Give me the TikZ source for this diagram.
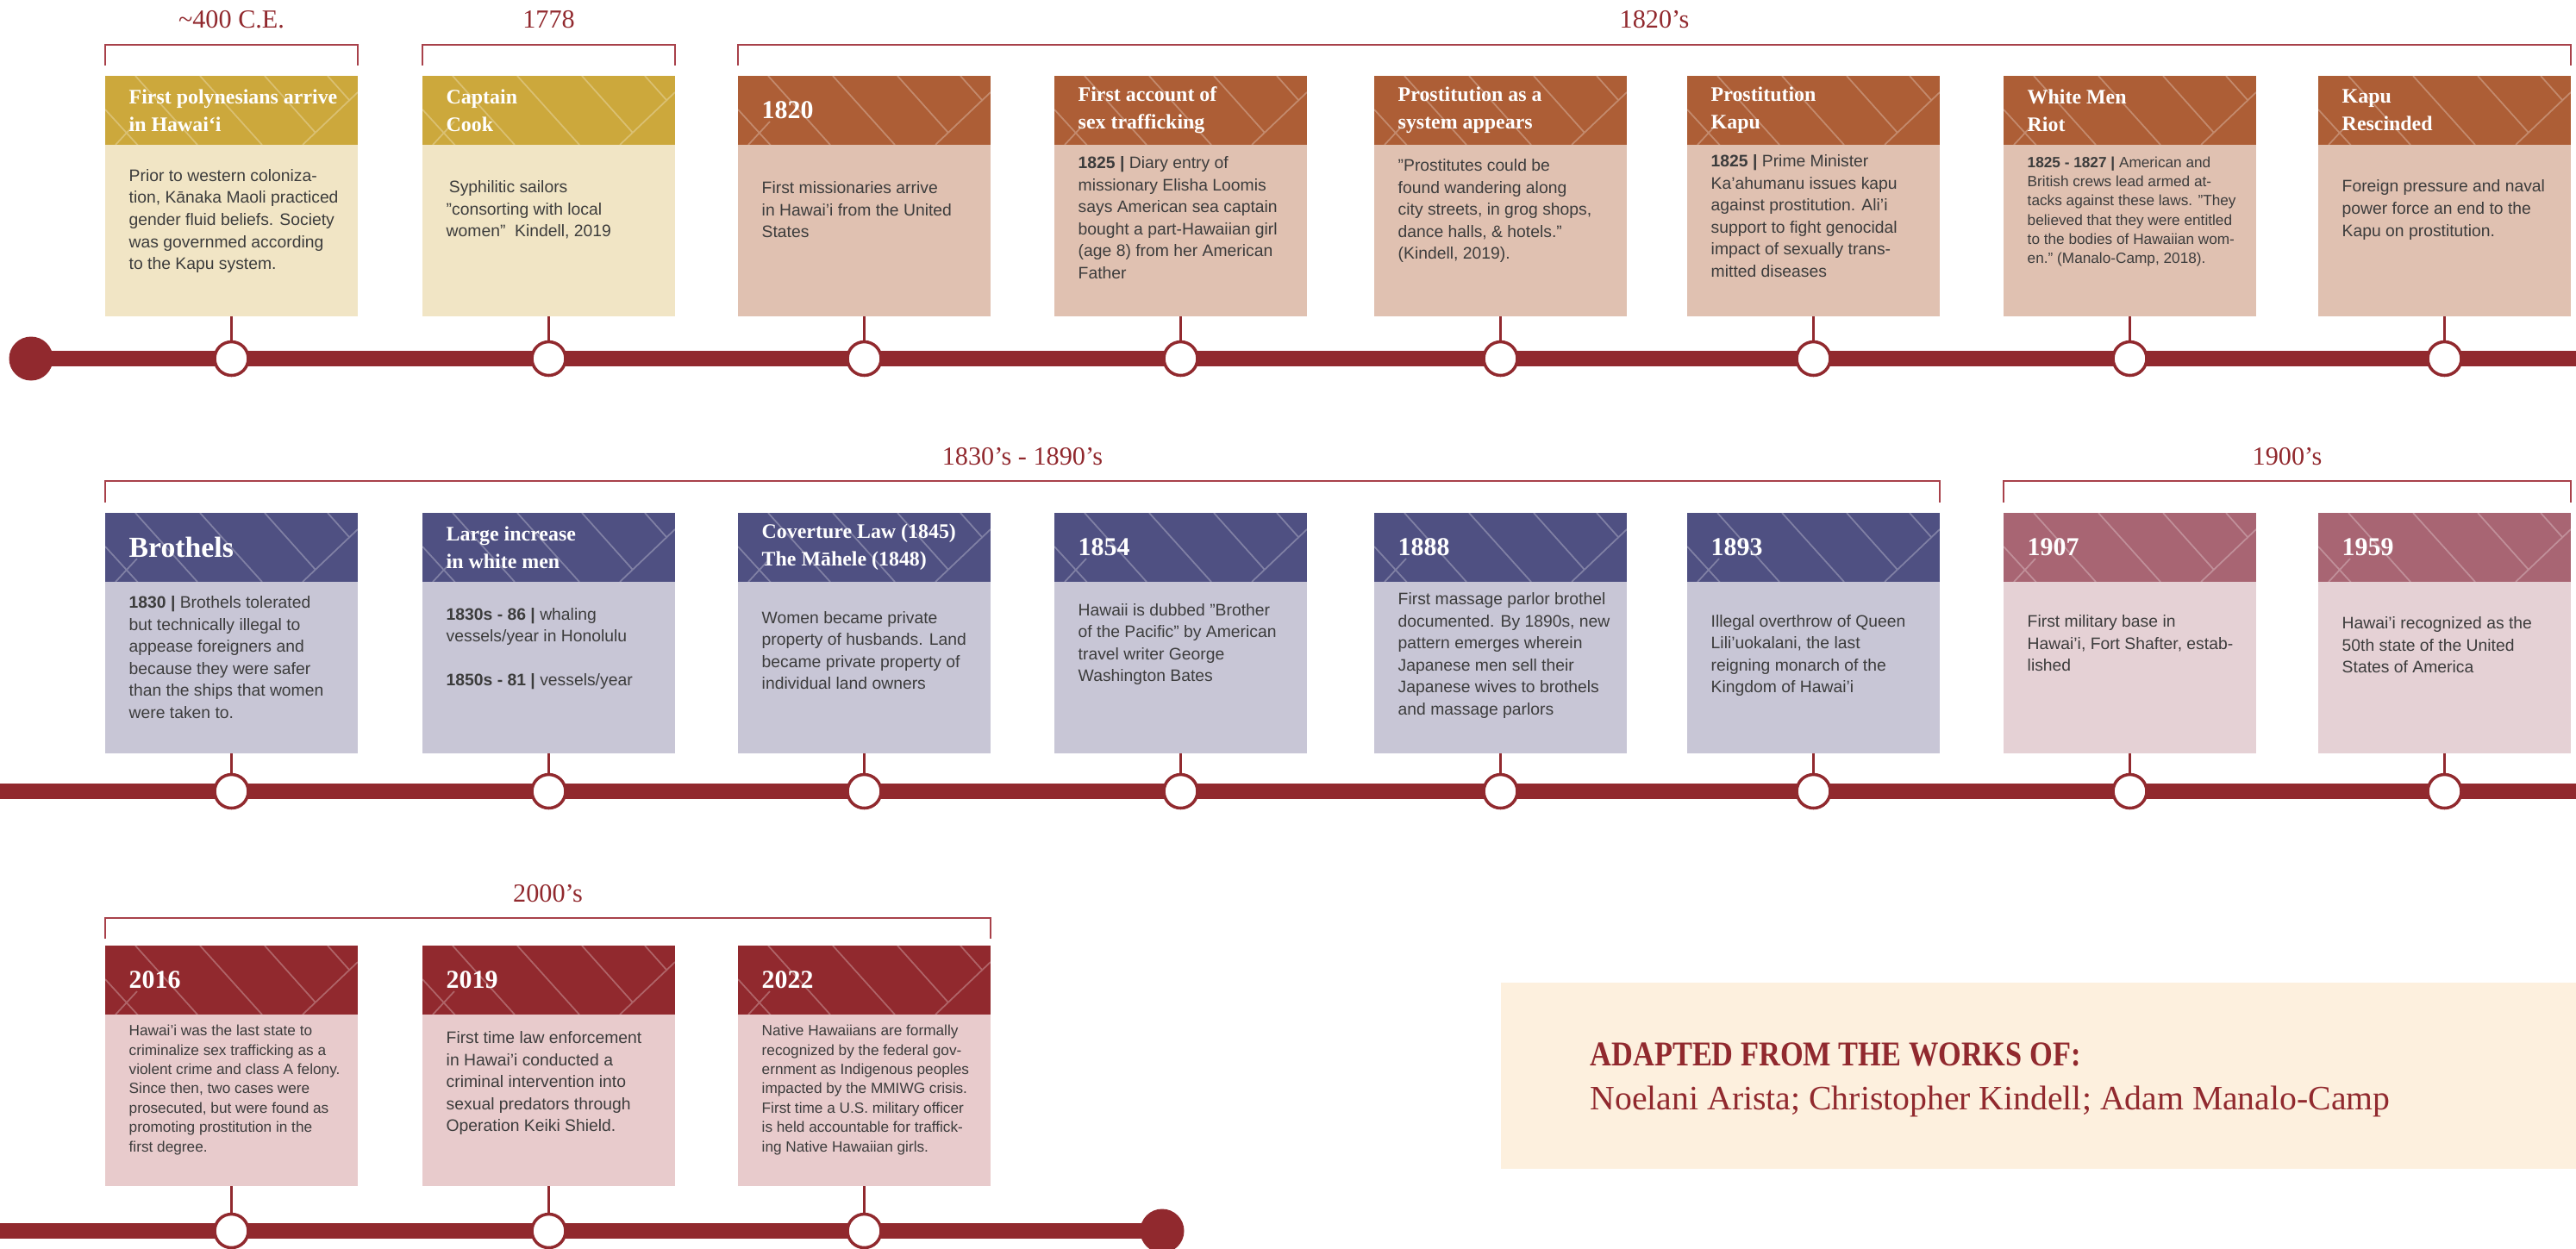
\documentclass[tikz,border=0pt]{standalone}
\usepackage{fontspec}
\setmainfont{Liberation Serif}
\setsansfont{Liberation Sans}
\newfontfamily\narrowserif[FakeStretch=0.85]{Liberation Serif}
\usetikzlibrary{positioning, calc}
\definecolor{tlred}{RGB}{145,41,46}
\definecolor{brkred}{RGB}{168,65,74}
\definecolor{textgray}{RGB}{60,60,60}
\definecolor{goldhd}{RGB}{204,168,60}
\definecolor{goldbd}{RGB}{241,229,197}
\definecolor{rusthd}{RGB}{173,94,54}
\definecolor{rustbd}{RGB}{224,193,177}
\definecolor{purphd}{RGB}{79,80,130}
\definecolor{purpbd}{RGB}{200,198,214}
\definecolor{mauvhd}{RGB}{168,101,115}
\definecolor{mauvbd}{RGB}{229,209,213}
\definecolor{redhd}{RGB}{145,41,46}
\definecolor{redbd}{RGB}{232,203,204}
\definecolor{creambox}{RGB}{253,240,222}

% herringbone lines inside a header
\newcommand{\hdrpattern}[1]{%
  \begin{scope}
    \clip (#1.south west) rectangle (#1.north east);
    \draw[hatch] ([yshift=-3.9mm]#1.north west) -- ++(0.42,-0.46)
      ([xshift=3.5mm]#1.north west) -- ++(0.72,-0.80)
      ([xshift=11mm]#1.north west) -- ++(0.72,-0.80)
      ([xshift=18.5mm]#1.north west) -- ++(0.59,-0.66)
      ([xshift=25.8mm]#1.north west) -- ++(0.25,-0.28)
      ([xshift=22.9mm]#1.south west) -- ++(0.64,0.61)
      ([xshift=1.2mm]#1.south west) -- ++(0.25,0.27);
  \end{scope}}

\begin{document}
\begin{tikzpicture}[
    hdr/.style={rectangle, inner sep=0pt, outer sep=0pt, minimum width=2.93cm, minimum height=0.80cm, anchor=north west},
    bdy/.style={rectangle, inner sep=0pt, outer sep=0pt, minimum width=2.93cm, minimum height=1.99cm},
    ttl/.style={inner sep=0pt, align=left, text=white, font=\fontsize{6.8}{9}\selectfont\bfseries},
    yr/.style={ttl, font=\fontsize{8.5}{10}\selectfont\bfseries},
    txt/.style={inner sep=0pt, align=left, text=textgray, font=\fontsize{5.5}{7.26}\selectfont\sffamily},
    smalltxt/.style={txt, font=\fontsize{4.9}{6.36}\selectfont\sffamily},
    hatch/.style={draw=white, opacity=0.28, line width=0.5pt},
    tline/.style={draw=tlred, line width=5pt},
    ring/.style={circle, draw=tlred, fill=white, line width=1pt, minimum size=0.39cm, inner sep=0pt},
    bigdot/.style={circle, fill=tlred, minimum size=0.51cm, inner sep=0pt},
    stem/.style={draw=tlred, line width=0.9pt},
    brk/.style={draw=brkred, line width=0.6pt},
    era/.style={text=tlred, font=\fontsize{8.6}{10}\selectfont, inner sep=0pt}
  ]
  \useasboundingbox (0,0) rectangle (29.88,-14.48);

  % timelines
  \node[bigdot] (s1) at (0.36,-4.16) {};
  \coordinate (l1) at (0,-4.16);
  \coordinate (r1) at (29.88,-4.16);
  \draw[tline] (s1.center) -- (r1);
  \coordinate (l2) at (0,-9.18);
  \coordinate (r2) at (29.88,-9.18);
  \draw[tline] (l2) -- (r2);
  \coordinate (l3) at (0,-14.28);
  \node[bigdot] (s3) at (13.48,-14.28) {};
  \draw[tline] (l3) -- (s3.center);

  % ---- row 1 ----
  \node[hdr, fill=goldhd] (h1_1) at (1.22,-0.88) {};
  \hdrpattern{h1_1}
  \node[ttl, right=0.27cm of h1_1.west] (t1_1) {First polynesians arrive\\in Hawai‘i};
  \node[bdy, fill=goldbd, below=0pt of h1_1] (b1_1) {};
  \node[txt, right=0.27cm of b1_1.west, yshift=1.1mm] (d1_1) {Prior to western coloniza-\\tion, Kānaka Maoli practiced\\gender fluid beliefs. Society\\was governmed according\\to the Kapu system.};

  \node[hdr, fill=goldhd] (h1_2) at (4.90,-0.88) {};
  \hdrpattern{h1_2}
  \node[ttl, right=0.27cm of h1_2.west] (t1_2) {Captain\\Cook};
  \node[bdy, fill=goldbd, below=0pt of h1_2] (b1_2) {};
  \node[txt, right=0.27cm of b1_2.west, yshift=2.4mm] (d1_2) {\,Syphilitic sailors\\"consorting with local\\women"\ \ Kindell, 2019};

  \node[hdr, fill=rusthd] (h1_3) at (8.56,-0.88) {};
  \hdrpattern{h1_3}
  \node[yr, right=0.27cm of h1_3.west] (t1_3) {1820};
  \node[bdy, fill=rustbd, below=0pt of h1_3] (b1_3) {};
  \node[txt, right=0.27cm of b1_3.west, yshift=2.4mm] (d1_3) {First missionaries arrive\\in Hawai’i from the United\\States};

  \node[hdr, fill=rusthd] (h1_4) at (12.23,-0.88) {};
  \hdrpattern{h1_4}
  \node[ttl, right=0.27cm of h1_4.west] (t1_4) {First account of\\sex trafficking};
  \node[bdy, fill=rustbd, below=0pt of h1_4] (b1_4) {};
  \node[txt, right=0.27cm of b1_4.west, yshift=1.5mm] (d1_4) {\textbf{1825 |} Diary entry of\\missionary Elisha Loomis\\says American sea captain\\bought a part-Hawaiian girl\\(age 8) from her American\\Father};

  \node[hdr, fill=rusthd] (h1_5) at (15.94,-0.88) {};
  \hdrpattern{h1_5}
  \node[ttl, right=0.27cm of h1_5.west] (t1_5) {Prostitution as a\\system appears};
  \node[bdy, fill=rustbd, below=0pt of h1_5] (b1_5) {};
  \node[txt, right=0.27cm of b1_5.west, yshift=2.3mm] (d1_5) {"Prostitutes could be\\found wandering along\\city streets, in grog shops,\\dance halls, \& hotels."\\(Kindell, 2019).};

  \node[hdr, fill=rusthd] (h1_6) at (19.57,-0.88) {};
  \hdrpattern{h1_6}
  \node[ttl, right=0.27cm of h1_6.west] (t1_6) {Prostitution\\Kapu};
  \node[bdy, fill=rustbd, below=0pt of h1_6] (b1_6) {};
  \node[txt, right=0.27cm of b1_6.west, yshift=1.7mm] (d1_6) {\textbf{1825 |} Prime Minister\\Ka’ahumanu issues kapu\\against prostitution. Ali’i\\support to fight genocidal\\impact of sexually trans-\\mitted diseases};

  \node[hdr, fill=rusthd] (h1_7) at (23.24,-0.88) {};
  \hdrpattern{h1_7}
  \node[ttl, right=0.27cm of h1_7.west] (t1_7) {White Men\\Riot};
  \node[bdy, fill=rustbd, below=0pt of h1_7] (b1_7) {};
  \node[smalltxt, right=0.27cm of b1_7.west, yshift=2.2mm] (d1_7) {\textbf{1825 - 1827 |} American and\\British crews lead armed at-\\tacks against these laws. "They\\believed that they were entitled\\to the bodies of Hawaiian wom-\\en." (Manalo-Camp, 2018).};

  \node[hdr, fill=rusthd] (h1_8) at (26.89,-0.88) {};
  \hdrpattern{h1_8}
  \node[ttl, right=0.27cm of h1_8.west] (t1_8) {Kapu\\Rescinded};
  \node[bdy, fill=rustbd, below=0pt of h1_8] (b1_8) {};
  \node[txt, right=0.27cm of b1_8.west, yshift=2.4mm] (d1_8) {Foreign pressure and naval\\power force an end to the\\Kapu on prostitution.};

  % ---- row 2 ----
  \node[hdr, fill=purphd] (h2_1) at (1.22,-5.95) {};
  \hdrpattern{h2_1}
  \node[yr, font=\fontsize{9.6}{11}\selectfont\bfseries, right=0.27cm of h2_1.west] (t2_1) {Brothels};
  \node[bdy, fill=purpbd, below=0pt of h2_1] (b2_1) {};
  \node[txt, right=0.27cm of b2_1.west, yshift=1.2mm] (d2_1) {\textbf{1830 |} Brothels tolerated\\but technically illegal to\\appease foreigners and\\because they were safer\\than the ships that women\\were taken to.};

  \node[hdr, fill=purphd] (h2_2) at (4.90,-5.95) {};
  \hdrpattern{h2_2}
  \node[ttl, right=0.27cm of h2_2.west] (t2_2) {Large increase\\in white men};
  \node[bdy, fill=purpbd, below=0pt of h2_2] (b2_2) {};
  \node[txt, right=0.27cm of b2_2.west, yshift=2.2mm] (d2_2) {\textbf{1830s - 86 |} whaling\\vessels/year in Honolulu\\[7.26pt]\textbf{1850s - 81 |} vessels/year};

  \node[hdr, fill=purphd] (h2_3) at (8.56,-5.95) {};
  \hdrpattern{h2_3}
  \node[ttl, right=0.27cm of h2_3.west] (t2_3) {Coverture Law (1845)\\The Māhele (1848)};
  \node[bdy, fill=purpbd, below=0pt of h2_3] (b2_3) {};
  \node[txt, right=0.27cm of b2_3.west, yshift=2.0mm] (d2_3) {Women became private\\property of husbands. Land\\became private property of\\individual land owners};

  \node[hdr, fill=purphd] (h2_4) at (12.23,-5.95) {};
  \hdrpattern{h2_4}
  \node[yr, right=0.27cm of h2_4.west] (t2_4) {1854};
  \node[bdy, fill=purpbd, below=0pt of h2_4] (b2_4) {};
  \node[txt, right=0.27cm of b2_4.west, yshift=2.7mm] (d2_4) {Hawaii is dubbed "Brother\\of the Pacific" by American\\travel writer George\\Washington Bates};

  \node[hdr, fill=purphd] (h2_5) at (15.94,-5.95) {};
  \hdrpattern{h2_5}
  \node[yr, right=0.27cm of h2_5.west] (t2_5) {1888};
  \node[bdy, fill=purpbd, below=0pt of h2_5] (b2_5) {};
  \node[txt, right=0.27cm of b2_5.west, yshift=1.4mm] (d2_5) {First massage parlor brothel\\documented. By 1890s, new\\pattern emerges wherein\\Japanese men sell their\\Japanese wives to brothels\\and massage parlors};

  \node[hdr, fill=purphd] (h2_6) at (19.57,-5.95) {};
  \hdrpattern{h2_6}
  \node[yr, right=0.27cm of h2_6.west] (t2_6) {1893};
  \node[bdy, fill=purpbd, below=0pt of h2_6] (b2_6) {};
  \node[txt, right=0.27cm of b2_6.west, yshift=1.4mm] (d2_6) {Illegal overthrow of Queen\\Lili’uokalani, the last\\reigning monarch of the\\Kingdom of Hawai’i};

  \node[hdr, fill=mauvhd] (h2_7) at (23.24,-5.95) {};
  \hdrpattern{h2_7}
  \node[yr, right=0.27cm of h2_7.west] (t2_7) {1907};
  \node[bdy, fill=mauvbd, below=0pt of h2_7] (b2_7) {};
  \node[txt, right=0.27cm of b2_7.west, yshift=2.8mm] (d2_7) {First military base in\\Hawai’i, Fort Shafter, estab-\\lished};

  \node[hdr, fill=mauvhd] (h2_8) at (26.89,-5.95) {};
  \hdrpattern{h2_8}
  \node[yr, right=0.27cm of h2_8.west] (t2_8) {1959};
  \node[bdy, fill=mauvbd, below=0pt of h2_8] (b2_8) {};
  \node[txt, right=0.27cm of b2_8.west, yshift=2.6mm] (d2_8) {Hawai’i recognized as the\\50th state of the United\\States of America};

  % ---- row 3 ----
  \node[hdr, fill=redhd] (h3_1) at (1.22,-10.97) {};
  \hdrpattern{h3_1}
  \node[yr, right=0.27cm of h3_1.west] (t3_1) {2016};
  \node[bdy, fill=redbd, below=0pt of h3_1] (b3_1) {};
  \node[smalltxt, right=0.27cm of b3_1.west, yshift=1.2mm] (d3_1) {Hawai’i was the last state to\\criminalize sex trafficking as a\\violent crime and class A felony.\\Since then, two cases were\\prosecuted, but were found as\\promoting prostitution in the\\first degree.};

  \node[hdr, fill=redhd] (h3_2) at (4.90,-10.97) {};
  \hdrpattern{h3_2}
  \node[yr, right=0.27cm of h3_2.west] (t3_2) {2019};
  \node[bdy, fill=redbd, below=0pt of h3_2] (b3_2) {};
  \node[txt, right=0.27cm of b3_2.west, yshift=2.0mm] (d3_2) {First time law enforcement\\in Hawai’i conducted a\\criminal intervention into\\sexual predators through\\Operation Keiki Shield.};

  \node[hdr, fill=redhd] (h3_3) at (8.56,-10.97) {};
  \hdrpattern{h3_3}
  \node[yr, right=0.27cm of h3_3.west] (t3_3) {2022};
  \node[bdy, fill=redbd, below=0pt of h3_3] (b3_3) {};
  \node[smalltxt, right=0.27cm of b3_3.west, yshift=1.2mm] (d3_3) {Native Hawaiians are formally\\recognized by the federal gov-\\ernment as Indigenous peoples\\impacted by the MMIWG crisis.\\First time a U.S. military officer\\is held accountable for traffick-\\ing Native Hawaiian girls.};

  % rings on the timelines
  \foreach \row/\num in {1/8, 2/8, 3/3}{
    \foreach \idx in {1,...,\num}{
      \node[ring] (c\row_\idx) at (b\row_\idx.south |- l\row) {};
      \draw[stem] (b\row_\idx.south) -- (c\row_\idx.north);
    }
  }

  % era brackets
  \draw[brk] ([yshift=1.2mm]h1_1.north west) -- ++(0,0.24) -| ([yshift=1.2mm]h1_1.north east);
  \node[era] (e1) at ($(h1_1.north)+(0,0.65)$) {\textasciitilde400 C.E.};
  \draw[brk] ([yshift=1.2mm]h1_2.north west) -- ++(0,0.24) -| ([yshift=1.2mm]h1_2.north east);
  \node[era] (e2) at ($(h1_2.north)+(0,0.65)$) {1778};
  \draw[brk] ([yshift=1.2mm]h1_3.north west) -- ++(0,0.24) -| ([yshift=1.2mm]h1_8.north east);
  \node[era] (e3) at ($(h1_3.north west)!0.5!(h1_8.north east)+(0,0.65)$) {1820’s};
  \draw[brk] ([yshift=1.2mm]h2_1.north west) -- ++(0,0.25) -| ([yshift=1.2mm]h2_6.north east);
  \node[era] (e4) at ($(h2_1.north west)!0.5!(h2_6.north east)+(0,0.65)$) {1830’s - 1890’s};
  \draw[brk] ([yshift=1.2mm]h2_7.north west) -- ++(0,0.25) -| ([yshift=1.2mm]h2_8.north east);
  \node[era] (e5) at ($(h2_7.north west)!0.5!(h2_8.north east)+(0,0.65)$) {1900’s};
  \draw[brk] ([yshift=0.8mm]h3_1.north west) -- ++(0,0.24) -| ([yshift=0.8mm]h3_3.north east);
  \node[era] (e6) at ($(h3_1.north west)!0.5!(h3_3.north east)+(0,0.60)$) {2000’s};

  % sources
  \node[rectangle, fill=creambox, inner sep=0pt, minimum width=12.48cm, minimum height=2.16cm, anchor=north west] (src) at (17.40,-11.39) {};
  \node[anchor=base west, inner sep=0pt, text=tlred, font=\narrowserif\bfseries\fontsize{11.5}{13}\selectfont] (src1) at (18.44,-12.36) {ADAPTED FROM THE WORKS OF:};
  \node[anchor=base west, inner sep=0pt, text=tlred, font=\fontsize{11.3}{13}\selectfont] (src2) at (18.44,-12.87) {Noelani Arista; Christopher Kindell; Adam Manalo-Camp};
\end{tikzpicture}
\end{document}
